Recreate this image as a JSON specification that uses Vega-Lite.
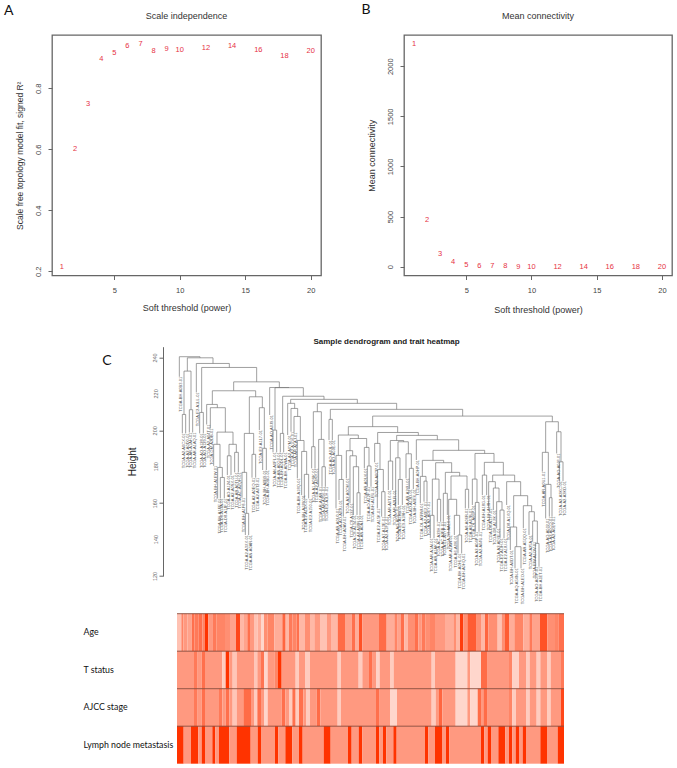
{"$schema":"https://vega.github.io/schema/vega-lite/v6.json","autosize":{"type":"none"},"padding":{"left":52,"top":35,"right":625,"bottom":733},"background":"white","bounds":"flush","spacing":311.7,"config":{"view":{"stroke":null},"font":"Liberation Sans"},
"datasets":{
"scale":[{"power":1,"r2":0.213},{"power":2,"r2":0.6},{"power":3,"r2":0.748},{"power":4,"r2":0.895},{"power":5,"r2":0.916},{"power":6,"r2":0.939},{"power":7,"r2":0.946},{"power":8,"r2":0.922},{"power":9,"r2":0.929},{"power":10,"r2":0.927},{"power":12,"r2":0.931},{"power":14,"r2":0.939},{"power":16,"r2":0.927},{"power":18,"r2":0.905},{"power":20,"r2":0.923}],
"conn":[{"power":1,"k":2219},{"power":2,"k":466},{"power":3,"k":130},{"power":4,"k":44},{"power":5,"k":17},{"power":6,"k":7},{"power":7,"k":3},{"power":8,"k":2},{"power":9,"k":1},{"power":10,"k":1},{"power":12,"k":0},{"power":14,"k":0},{"power":16,"k":0},{"power":18,"k":0},{"power":20,"k":0}],
"merges":[{"l":178,"r":240,"h":240.4,"hl":229.4,"hr":239.8},{"l":202,"r":279,"h":239.8,"hl":232.5,"hr":236.7},{"l":192,"r":213,"h":232.5,"hl":208.7,"hr":211.3},{"l":187,"r":197,"h":208.7,"hl":198.3,"hr":198.3},{"l":208,"r":218,"h":211.3,"hl":198.8,"hr":198.8},{"l":229,"r":328,"h":236.7,"hl":220.8,"hr":234.5},{"l":245,"r":410,"h":234.5,"hl":209.8,"hr":226.6},{"l":239,"r":250,"h":209.8,"hl":198.3,"hr":198.3},{"l":341,"r":478,"h":226.6,"hl":221.7,"hr":223.5},{"l":277,"r":407,"h":221.7,"hl":214.2,"hr":218.4},{"l":260,"r":292,"h":214.2,"hl":203.2,"hr":212.4},{"l":271,"r":316,"h":212.4,"hl":201.0,"hr":199.0},{"l":291,"r":339,"h":199.0,"hl":192.3,"hr":192.3},{"l":281,"r":300,"h":192.3,"hl":180.5,"hr":179.6},{"l":293,"r":307,"h":179.6,"hl":162.6,"hr":174.1},{"l":301,"r":313,"h":174.1,"hl":162.6,"hr":162.6},{"l":327,"r":349,"h":192.3,"hl":186.0,"hr":187.9},{"l":322,"r":333,"h":186.0,"hl":175.4,"hr":175.4},{"l":344,"r":355,"h":187.9,"hl":176.9,"hr":176.9},{"l":388,"r":427,"h":218.4,"hl":198.3,"hr":212.4},{"l":373,"r":401,"h":198.3,"hl":176.9,"hr":186.8},{"l":366,"r":380,"h":176.9,"hl":163.0,"hr":154.4},{"l":376,"r":386,"h":154.4,"hl":142.5,"hr":142.5},{"l":396,"r":407,"h":186.8,"hl":174.0,"hr":174.0},{"l":418,"r":433,"h":212.4,"hl":200.1,"hr":190.1},{"l":428,"r":439,"h":190.1,"hl":178.2,"hr":178.2},{"l":449,"r":507,"h":223.5,"hl":208.4,"hr":223.4},{"l":465,"r":550,"h":223.4,"hl":200.1,"hr":218.7},{"l":488,"r":612,"h":218.7,"hl":198.3,"hr":217.0},{"l":459,"r":470,"h":200.1,"hl":187.9,"hr":187.9},{"l":481,"r":491,"h":198.3,"hl":187.9,"hr":187.9},{"l":512,"r":712,"h":217.0,"hl":214.8,"hr":214.8},{"l":503,"r":524,"h":214.8,"hl":197.4,"hr":212.0},{"l":513,"r":533,"h":212.0,"hl":199.2,"hr":207.6},{"l":522,"r":541,"h":207.6,"hl":198.8,"hr":194.4},{"l":532,"r":552,"h":194.4,"hl":173.6,"hr":188.4},{"l":545,"r":560,"h":188.4,"hl":164.4,"hr":175.8},{"l":553,"r":566,"h":175.8,"hl":162.6,"hr":162.6},{"l":592,"r":830,"h":214.8,"hl":210.2,"hr":211.5},{"l":580,"r":604,"h":210.2,"hl":191.0,"hr":195.0},{"l":575,"r":585,"h":191.0,"hl":179.1,"hr":179.1},{"l":596,"r":612,"h":195.0,"hl":169.0,"hr":180.0},{"l":606,"r":616,"h":180.0,"hl":169.0,"hr":169.0},{"l":631,"r":1028,"h":211.5,"hl":206.0,"hr":207.8},{"l":627,"r":637,"h":206.0,"hl":194.6,"hr":194.6},{"l":758,"r":1297,"h":207.8,"hl":202.0,"hr":204.7},{"l":1277,"r":1315,"h":204.7,"hl":187.9,"hr":199.2},{"l":1267,"r":1285,"h":187.9,"hl":177.3,"hr":170.3},{"l":1277,"r":1293,"h":170.3,"hl":151.6,"hr":163.0},{"l":1288,"r":1296,"h":163.0,"hl":152.6,"hr":152.6},{"l":1310,"r":1323,"h":199.2,"hl":187.3,"hr":182.7},{"l":1318,"r":1329,"h":182.7,"hl":172.1,"hr":172.1},{"l":685,"r":833,"h":202.0,"hl":197.4,"hr":198.8},{"l":655,"r":715,"h":197.4,"hl":186.2,"hr":195.5},{"l":648,"r":665,"h":186.2,"hl":157.1,"hr":173.0},{"l":657,"r":670,"h":173.0,"hl":161.7,"hr":152.6},{"l":690,"r":740,"h":195.5,"hl":188.8,"hr":190.6},{"l":679,"r":698,"h":188.8,"hl":173.6,"hr":186.0},{"l":690,"r":709,"h":186.0,"hl":159.9,"hr":180.0},{"l":700,"r":716,"h":180.0,"hl":153.5,"hr":165.7},{"l":711,"r":720,"h":165.7,"hl":153.5,"hr":153.5},{"l":733,"r":747,"h":190.6,"hl":179.1,"hr":180.4},{"l":742,"r":753,"h":180.4,"hl":169.0,"hr":169.0},{"l":773,"r":895,"h":198.8,"hl":192.8,"hr":197.2},{"l":764,"r":780,"h":192.8,"hl":182.4,"hr":178.5},{"l":772,"r":790,"h":178.5,"hl":157.1,"hr":166.3},{"l":785,"r":795,"h":166.3,"hl":152.6,"hr":152.6},{"l":830,"r":952,"h":197.2,"hl":194.4,"hr":194.8},{"l":811,"r":851,"h":194.4,"hl":183.1,"hr":193.7},{"l":805,"r":818,"h":183.1,"hl":167.2,"hr":167.2},{"l":834,"r":865,"h":193.7,"hl":184.9,"hr":187.1},{"l":827,"r":840,"h":184.9,"hl":158.0,"hr":173.0},{"l":835,"r":847,"h":173.0,"hl":159.0,"hr":159.0},{"l":858,"r":874,"h":187.1,"hl":173.6,"hr":179.1},{"l":868,"r":880,"h":179.1,"hl":167.7,"hr":167.7},{"l":889,"r":1016,"h":194.8,"hl":183.7,"hr":189.0},{"l":939,"r":1094,"h":189.0,"hl":183.5,"hr":187.3},{"l":907,"r":971,"h":183.5,"hl":174.7,"hr":182.2},{"l":901,"r":918,"h":174.7,"hl":159.9,"hr":172.1},{"l":912,"r":921,"h":172.1,"hl":160.8,"hr":160.8},{"l":947,"r":995,"h":182.2,"hl":173.2,"hr":176.9},{"l":937,"r":957,"h":173.2,"hl":153.3,"hr":162.1},{"l":931,"r":942,"h":153.3,"hl":140.7,"hr":140.7},{"l":952,"r":962,"h":162.1,"hl":149.8,"hr":149.8},{"l":976,"r":1019,"h":176.9,"hl":165.4,"hr":174.9},{"l":970,"r":982,"h":165.4,"hl":149.8,"hr":153.5},{"l":993,"r":1041,"h":174.9,"hl":162.1,"hr":167.6},{"l":986,"r":1010,"h":162.1,"hl":142.5,"hr":153.3},{"l":1003,"r":1019,"h":153.3,"hl":142.5,"hr":142.5},{"l":1014,"r":1025,"h":142.5,"hl":132.4,"hr":132.4},{"l":1036,"r":1046,"h":167.6,"hl":157.1,"hr":157.1},{"l":1065,"r":1122,"h":187.3,"hl":173.2,"hr":182.4},{"l":1057,"r":1071,"h":173.2,"hl":159.0,"hr":160.4},{"l":1066,"r":1077,"h":160.4,"hl":144.3,"hr":144.3},{"l":1093,"r":1150,"h":182.4,"hl":175.4,"hr":175.4},{"l":1087,"r":1100,"h":175.4,"hl":164.4,"hr":164.4},{"l":1118,"r":1184,"h":175.4,"hl":171.8,"hr":171.8},{"l":1106,"r":1126,"h":171.8,"hl":157.1,"hr":168.3},{"l":1120,"r":1137,"h":168.3,"hl":156.2,"hr":160.8},{"l":1130,"r":1146,"h":160.8,"hl":146.2,"hr":156.2},{"l":1140,"r":1152,"h":156.2,"hl":140.7,"hr":140.7},{"l":1160,"r":1202,"h":171.8,"hl":159.0,"hr":164.1},{"l":1181,"r":1223,"h":164.1,"hl":146.9,"hr":158.6},{"l":1171,"r":1190,"h":146.9,"hl":134.3,"hr":136.1},{"l":1185,"r":1203,"h":136.1,"hl":124.2,"hr":124.2},{"l":1210,"r":1235,"h":158.6,"hl":146.2,"hr":155.3},{"l":1227,"r":1243,"h":155.3,"hl":142.5,"hr":150.2},{"l":1238,"r":1252,"h":150.2,"hl":138.8,"hr":137.9},{"l":1246,"r":1257,"h":137.9,"hl":125.1,"hr":125.1}],
"leaves":[{"x":178,"h":229.4,"id":"TCGA-BH-A0B3-01"},{"x":187,"h":198.3,"id":"TCGA-A2-A0CX-01"},{"x":197,"h":198.3,"id":"TCGA-A2-A0D0-01"},{"x":208,"h":198.8,"id":"TCGA-AR-A1AH-01"},{"x":218,"h":198.8,"id":"TCGA-AR-A1AQ-01"},{"x":229,"h":220.8,"id":"TCGA-E2-A1LL-01"},{"x":239,"h":198.3,"id":"TCGA-AO-A128-01"},{"x":250,"h":198.3,"id":"TCGA-AO-A129-01"},{"x":260,"h":203.2,"id":"TCGA-A2-A04T-01"},{"x":271,"h":201.0,"id":"TCGA-GM-A2DB-01"},{"x":281,"h":180.5,"id":"TCGA-BH-A1EW-01"},{"x":293,"h":162.6,"id":"TCGA-BH-A1FE-01"},{"x":301,"h":162.6,"id":"TCGA-D8-A1JA-01"},{"x":313,"h":162.6,"id":"TCGA-D8-A1JF-01"},{"x":322,"h":175.4,"id":"TCGA-AO-A124-01"},{"x":333,"h":175.4,"id":"TCGA-A2-A0SX-01"},{"x":344,"h":176.9,"id":"TCGA-AR-A0TU-01"},{"x":355,"h":176.9,"id":"TCGA-AC-A2QH-01"},{"x":366,"h":163.0,"id":"TCGA-BH-A1F8-01"},{"x":376,"h":142.5,"id":"TCGA-A2-A3XX-01"},{"x":386,"h":142.5,"id":"TCGA-AN-A0AR-01"},{"x":396,"h":174.0,"id":"TCGA-A2-A0EQ-01"},{"x":407,"h":174.0,"id":"TCGA-A2-A0T2-01"},{"x":418,"h":200.1,"id":"TCGA-E2-A1L7-01"},{"x":428,"h":178.2,"id":"TCGA-BH-A0B9-01"},{"x":439,"h":178.2,"id":"TCGA-BH-A0BG-01"},{"x":449,"h":208.4,"id":"TCGA-AO-A0J9-01"},{"x":459,"h":187.9,"id":"TCGA-AN-A0FL-01"},{"x":470,"h":187.9,"id":"TCGA-AN-A0G0-01"},{"x":481,"h":187.9,"id":"TCGA-BH-A0DL-01"},{"x":491,"h":187.9,"id":"TCGA-BH-A0WA-01"},{"x":503,"h":197.4,"id":"TCGA-A2-A0YM-01"},{"x":513,"h":199.2,"id":"TCGA-A2-A1G6-01"},{"x":522,"h":198.8,"id":"TCGA-AR-A1AJ-01"},{"x":532,"h":173.6,"id":"TCGA-BH-A18Q-01"},{"x":545,"h":164.4,"id":"TCGA-BH-A18V-01"},{"x":553,"h":162.6,"id":"TCGA-E2-A14X-01"},{"x":566,"h":162.6,"id":"TCGA-E2-A150-01"},{"x":575,"h":179.1,"id":"TCGA-A1-A0SK-01"},{"x":585,"h":179.1,"id":"TCGA-A2-A0ST-01"},{"x":596,"h":169.0,"id":"TCGA-AR-A1AR-01"},{"x":606,"h":169.0,"id":"TCGA-AR-A256-01"},{"x":616,"h":169.0,"id":"TCGA-E2-A1LH-01"},{"x":627,"h":194.6,"id":"TCGA-AO-A0JL-01"},{"x":637,"h":194.6,"id":"TCGA-AO-A0JE-01"},{"x":648,"h":157.1,"id":"TCGA-AR-A0U0-01"},{"x":657,"h":161.7,"id":"TCGA-AO-A03U-01"},{"x":670,"h":152.6,"id":"TCGA-BH-A0AV-01"},{"x":679,"h":173.6,"id":"TCGA-A2-A0CM-01"},{"x":690,"h":159.9,"id":"TCGA-C8-A12Z-01"},{"x":700,"h":153.5,"id":"TCGA-C8-A134-01"},{"x":711,"h":153.5,"id":"TCGA-A8-A08R-01"},{"x":720,"h":153.5,"id":"TCGA-AN-A0AJ-01"},{"x":733,"h":179.1,"id":"TCGA-AR-A0U4-01"},{"x":742,"h":169.0,"id":"TCGA-AO-A12F-01"},{"x":753,"h":169.0,"id":"TCGA-BH-A1EU-01"},{"x":764,"h":182.4,"id":"TCGA-A2-A0CP-01"},{"x":772,"h":157.1,"id":"TCGA-E2-A15K-01"},{"x":785,"h":152.6,"id":"TCGA-A7-A13E-01"},{"x":795,"h":152.6,"id":"TCGA-A2-A1FX-01"},{"x":805,"h":167.2,"id":"TCGA-AR-A0TX-01"},{"x":818,"h":167.2,"id":"TCGA-AR-A2LR-01"},{"x":827,"h":158.0,"id":"TCGA-AO-A0JC-01"},{"x":835,"h":159.0,"id":"TCGA-E9-A1RB-01"},{"x":847,"h":159.0,"id":"TCGA-E9-A1RH-01"},{"x":858,"h":173.6,"id":"TCGA-AR-A24U-01"},{"x":868,"h":167.7,"id":"TCGA-AO-A12D-01"},{"x":880,"h":167.7,"id":"TCGA-BH-A0E6-01"},{"x":889,"h":183.7,"id":"TCGA-BH-A0HP-01"},{"x":901,"h":159.9,"id":"TCGA-OL-A5RW-01"},{"x":912,"h":160.8,"id":"TCGA-A2-A0EX-01"},{"x":921,"h":160.8,"id":"TCGA-A2-A0EY-01"},{"x":931,"h":140.7,"id":"TCGA-AR-A1AI-01"},{"x":942,"h":140.7,"id":"TCGA-AR-A1AK-01"},{"x":952,"h":149.8,"id":"TCGA-AC-A23H-01"},{"x":962,"h":149.8,"id":"TCGA-AC-A2FB-01"},{"x":970,"h":149.8,"id":"TCGA-LL-A5YP-01"},{"x":982,"h":153.5,"id":"TCGA-S3-AA10-01"},{"x":986,"h":142.5,"id":"TCGA-AR-A1AW-01"},{"x":1003,"h":142.5,"id":"TCGA-B6-A0I6-01"},{"x":1014,"h":132.4,"id":"TCGA-BH-A0HL-01"},{"x":1025,"h":132.4,"id":"TCGA-BH-A0HQ-01"},{"x":1036,"h":157.1,"id":"TCGA-A8-A06R-01"},{"x":1046,"h":157.1,"id":"TCGA-A8-A07B-01"},{"x":1057,"h":159.0,"id":"TCGA-OL-A66P-01"},{"x":1066,"h":144.3,"id":"TCGA-A2-A04P-01"},{"x":1077,"h":144.3,"id":"TCGA-A2-A04U-01"},{"x":1087,"h":164.4,"id":"TCGA-BH-A18G-01"},{"x":1100,"h":164.4,"id":"TCGA-BH-A18H-01"},{"x":1106,"h":157.1,"id":"TCGA-D8-A13Y-01"},{"x":1120,"h":156.2,"id":"TCGA-D8-A1XK-01"},{"x":1130,"h":146.2,"id":"TCGA-A2-A0YE-01"},{"x":1140,"h":140.7,"id":"TCGA-E2-A1IH-01"},{"x":1152,"h":140.7,"id":"TCGA-E2-A1IU-01"},{"x":1160,"h":159.0,"id":"TCGA-D8-A1XQ-01"},{"x":1171,"h":134.3,"id":"TCGA-BH-A0DT-01"},{"x":1185,"h":124.2,"id":"TCGA-AQ-A54N-01"},{"x":1203,"h":124.2,"id":"TCGA-BH-A1EO-01"},{"x":1210,"h":146.2,"id":"TCGA-AR-A5QQ-01"},{"x":1227,"h":142.5,"id":"TCGA-A2-A25A-01"},{"x":1238,"h":138.8,"id":"TCGA-EW-A1OV-01"},{"x":1246,"h":125.1,"id":"TCGA-AO-A03P-01"},{"x":1257,"h":125.1,"id":"TCGA-BH-A1ET-01"},{"x":1267,"h":177.3,"id":"TCGA-AR-A0U1-01"},{"x":1277,"h":151.6,"id":"TCGA-AO-A0J2-01"},{"x":1288,"h":152.6,"id":"TCGA-A2-A0CQ-01"},{"x":1296,"h":152.6,"id":"TCGA-A2-A0EV-01"},{"x":1310,"h":187.3,"id":"TCGA-AO-A0J6-01"},{"x":1318,"h":172.1,"id":"TCGA-A2-A3KC-01"},{"x":1329,"h":172.1,"id":"TCGA-A2-A3KD-01"}],
"cells":[
{"row":"Age","from":171,"to":184,"value":0.3},{"row":"Age","from":184,"to":190,"value":0.6},{"row":"Age","from":190,"to":202,"value":0.5},{"row":"Age","from":202,"to":215,"value":0.45},{"row":"Age","from":215,"to":223,"value":0.7},{"row":"Age","from":223,"to":235,"value":0.65},{"row":"Age","from":235,"to":247,"value":0.7},{"row":"Age","from":247,"to":255,"value":0.6},{"row":"Age","from":255,"to":265,"value":1},{"row":"Age","from":265,"to":277,"value":0.5},{"row":"Age","from":277,"to":290,"value":0.65},{"row":"Age","from":290,"to":315,"value":0.6},{"row":"Age","from":315,"to":330,"value":0.55},{"row":"Age","from":330,"to":348,"value":0.45},{"row":"Age","from":348,"to":360,"value":0.9},{"row":"Age","from":360,"to":370,"value":0.35},{"row":"Age","from":370,"to":382,"value":0.45},{"row":"Age","from":382,"to":390,"value":0.7},{"row":"Age","from":390,"to":402,"value":0.5},{"row":"Age","from":402,"to":413,"value":0.3},{"row":"Age","from":413,"to":423,"value":0.4},{"row":"Age","from":423,"to":432,"value":0.2},{"row":"Age","from":432,"to":443,"value":0.55},{"row":"Age","from":443,"to":463,"value":0.6},{"row":"Age","from":463,"to":487,"value":0.4},{"row":"Age","from":487,"to":497,"value":0.75},{"row":"Age","from":497,"to":507,"value":0.35},{"row":"Age","from":507,"to":517,"value":0.65},{"row":"Age","from":517,"to":530,"value":0.6},{"row":"Age","from":530,"to":537,"value":0.7},{"row":"Age","from":537,"to":555,"value":0.35},{"row":"Age","from":555,"to":570,"value":0.55},{"row":"Age","from":570,"to":583,"value":0.35},{"row":"Age","from":583,"to":600,"value":0.5},{"row":"Age","from":600,"to":620,"value":0.3},{"row":"Age","from":620,"to":633,"value":0.5},{"row":"Age","from":633,"to":653,"value":0.35},{"row":"Age","from":653,"to":675,"value":0.72},{"row":"Age","from":675,"to":695,"value":0.45},{"row":"Age","from":695,"to":705,"value":0.7},{"row":"Age","from":705,"to":717,"value":0.4},{"row":"Age","from":717,"to":727,"value":0.85},{"row":"Age","from":727,"to":777,"value":0.5},{"row":"Age","from":777,"to":800,"value":0.72},{"row":"Age","from":800,"to":823,"value":0.4},{"row":"Age","from":823,"to":833,"value":0.6},{"row":"Age","from":833,"to":843,"value":0.45},{"row":"Age","from":843,"to":853,"value":0.7},{"row":"Age","from":853,"to":863,"value":0.35},{"row":"Age","from":863,"to":885,"value":0.55},{"row":"Age","from":885,"to":895,"value":0.7},{"row":"Age","from":895,"to":905,"value":0.5},{"row":"Age","from":905,"to":917,"value":0.65},{"row":"Age","from":917,"to":930,"value":0.55},{"row":"Age","from":930,"to":945,"value":0.6},{"row":"Age","from":945,"to":975,"value":0.5},{"row":"Age","from":975,"to":1000,"value":0.4},{"row":"Age","from":1000,"to":1008,"value":0.55},{"row":"Age","from":1008,"to":1020,"value":0.35},{"row":"Age","from":1020,"to":1030,"value":0.95},{"row":"Age","from":1030,"to":1042,"value":0.55},{"row":"Age","from":1042,"to":1070,"value":0.8},{"row":"Age","from":1070,"to":1083,"value":0.55},{"row":"Age","from":1083,"to":1095,"value":0.35},{"row":"Age","from":1095,"to":1105,"value":0.75},{"row":"Age","from":1105,"to":1133,"value":0.55},{"row":"Age","from":1133,"to":1145,"value":0.3},{"row":"Age","from":1145,"to":1155,"value":0.55},{"row":"Age","from":1155,"to":1167,"value":0.8},{"row":"Age","from":1167,"to":1183,"value":0.4},{"row":"Age","from":1183,"to":1210,"value":0.6},{"row":"Age","from":1210,"to":1228,"value":0.4},{"row":"Age","from":1228,"to":1238,"value":0.65},{"row":"Age","from":1238,"to":1260,"value":0.45},{"row":"Age","from":1260,"to":1282,"value":0.85},{"row":"Age","from":1282,"to":1305,"value":0.55},{"row":"Age","from":1305,"to":1315,"value":0.6},{"row":"Age","from":1315,"to":1332,"value":0.7},
{"row":"T status","from":171,"to":222,"value":0.5},{"row":"T status","from":222,"to":233,"value":0.65},{"row":"T status","from":233,"to":245,"value":0.5},{"row":"T status","from":245,"to":255,"value":0.7},{"row":"T status","from":255,"to":307,"value":0.5},{"row":"T status","from":307,"to":317,"value":0.25},{"row":"T status","from":317,"to":328,"value":1},{"row":"T status","from":328,"to":338,"value":0.5},{"row":"T status","from":338,"to":350,"value":0.28},{"row":"T status","from":350,"to":402,"value":0.5},{"row":"T status","from":402,"to":412,"value":0.28},{"row":"T status","from":412,"to":423,"value":0.5},{"row":"T status","from":423,"to":432,"value":0.68},{"row":"T status","from":432,"to":443,"value":0.2},{"row":"T status","from":443,"to":463,"value":0.5},{"row":"T status","from":463,"to":473,"value":0.6},{"row":"T status","from":473,"to":485,"value":1},{"row":"T status","from":485,"to":527,"value":0.5},{"row":"T status","from":527,"to":537,"value":0.25},{"row":"T status","from":537,"to":555,"value":0.5},{"row":"T status","from":555,"to":570,"value":0.25},{"row":"T status","from":570,"to":653,"value":0.5},{"row":"T status","from":653,"to":663,"value":0.25},{"row":"T status","from":663,"to":716,"value":0.5},{"row":"T status","from":716,"to":727,"value":0.25},{"row":"T status","from":727,"to":747,"value":0.5},{"row":"T status","from":747,"to":758,"value":0.7},{"row":"T status","from":758,"to":768,"value":0.5},{"row":"T status","from":768,"to":779,"value":0.22},{"row":"T status","from":779,"to":810,"value":0.5},{"row":"T status","from":810,"to":821,"value":0.25},{"row":"T status","from":821,"to":935,"value":0.5},{"row":"T status","from":935,"to":945,"value":0.25},{"row":"T status","from":945,"to":1007,"value":0.5},{"row":"T status","from":1007,"to":1042,"value":0.2},{"row":"T status","from":1042,"to":1051,"value":0.5},{"row":"T status","from":1051,"to":1083,"value":0.2},{"row":"T status","from":1083,"to":1103,"value":0.72},{"row":"T status","from":1103,"to":1167,"value":0.5},{"row":"T status","from":1167,"to":1177,"value":0.6},{"row":"T status","from":1177,"to":1197,"value":0.22},{"row":"T status","from":1197,"to":1218,"value":0.5},{"row":"T status","from":1218,"to":1229,"value":0.25},{"row":"T status","from":1229,"to":1250,"value":0.5},{"row":"T status","from":1250,"to":1261,"value":0.25},{"row":"T status","from":1261,"to":1281,"value":0.5},{"row":"T status","from":1281,"to":1292,"value":0.25},{"row":"T status","from":1292,"to":1323,"value":0.5},{"row":"T status","from":1323,"to":1332,"value":0.65},
{"row":"AJCC stage","from":171,"to":222,"value":0.5},{"row":"AJCC stage","from":222,"to":233,"value":0.65},{"row":"AJCC stage","from":233,"to":245,"value":0.5},{"row":"AJCC stage","from":245,"to":255,"value":0.7},{"row":"AJCC stage","from":255,"to":297,"value":0.5},{"row":"AJCC stage","from":297,"to":307,"value":0.65},{"row":"AJCC stage","from":307,"to":317,"value":0.5},{"row":"AJCC stage","from":317,"to":328,"value":0.7},{"row":"AJCC stage","from":328,"to":338,"value":0.5},{"row":"AJCC stage","from":338,"to":350,"value":0.28},{"row":"AJCC stage","from":350,"to":370,"value":0.5},{"row":"AJCC stage","from":370,"to":393,"value":0.72},{"row":"AJCC stage","from":393,"to":402,"value":0.5},{"row":"AJCC stage","from":402,"to":412,"value":0.25},{"row":"AJCC stage","from":412,"to":423,"value":0.7},{"row":"AJCC stage","from":423,"to":432,"value":0.5},{"row":"AJCC stage","from":432,"to":443,"value":0.2},{"row":"AJCC stage","from":443,"to":485,"value":0.5},{"row":"AJCC stage","from":485,"to":496,"value":0.7},{"row":"AJCC stage","from":496,"to":507,"value":0.5},{"row":"AJCC stage","from":507,"to":517,"value":0.25},{"row":"AJCC stage","from":517,"to":527,"value":0.7},{"row":"AJCC stage","from":527,"to":537,"value":0.25},{"row":"AJCC stage","from":537,"to":550,"value":0.7},{"row":"AJCC stage","from":550,"to":558,"value":0.5},{"row":"AJCC stage","from":558,"to":570,"value":0.25},{"row":"AJCC stage","from":570,"to":590,"value":0.5},{"row":"AJCC stage","from":590,"to":601,"value":0.72},{"row":"AJCC stage","from":601,"to":653,"value":0.5},{"row":"AJCC stage","from":653,"to":663,"value":0.25},{"row":"AJCC stage","from":663,"to":768,"value":0.5},{"row":"AJCC stage","from":768,"to":779,"value":0.7},{"row":"AJCC stage","from":779,"to":810,"value":0.5},{"row":"AJCC stage","from":810,"to":831,"value":0.2},{"row":"AJCC stage","from":831,"to":935,"value":0.5},{"row":"AJCC stage","from":935,"to":947,"value":0.25},{"row":"AJCC stage","from":947,"to":957,"value":0.5},{"row":"AJCC stage","from":957,"to":967,"value":0.75},{"row":"AJCC stage","from":967,"to":1007,"value":0.5},{"row":"AJCC stage","from":1007,"to":1042,"value":0.2},{"row":"AJCC stage","from":1042,"to":1051,"value":0.5},{"row":"AJCC stage","from":1051,"to":1073,"value":0.2},{"row":"AJCC stage","from":1073,"to":1083,"value":0.72},{"row":"AJCC stage","from":1083,"to":1090,"value":0.5},{"row":"AJCC stage","from":1090,"to":1103,"value":0.72},{"row":"AJCC stage","from":1103,"to":1167,"value":0.5},{"row":"AJCC stage","from":1167,"to":1177,"value":0.6},{"row":"AJCC stage","from":1177,"to":1188,"value":0.25},{"row":"AJCC stage","from":1188,"to":1218,"value":0.5},{"row":"AJCC stage","from":1218,"to":1229,"value":0.25},{"row":"AJCC stage","from":1229,"to":1250,"value":0.5},{"row":"AJCC stage","from":1250,"to":1261,"value":0.25},{"row":"AJCC stage","from":1261,"to":1281,"value":0.5},{"row":"AJCC stage","from":1281,"to":1292,"value":0.25},{"row":"AJCC stage","from":1292,"to":1323,"value":0.5},{"row":"AJCC stage","from":1323,"to":1332,"value":0.9},
{"row":"Lymph node metastasis","from":171,"to":191,"value":1},{"row":"Lymph node metastasis","from":191,"to":213,"value":0.5},{"row":"Lymph node metastasis","from":213,"to":235,"value":1},{"row":"Lymph node metastasis","from":235,"to":245,"value":0.5},{"row":"Lymph node metastasis","from":245,"to":255,"value":1},{"row":"Lymph node metastasis","from":255,"to":277,"value":0.5},{"row":"Lymph node metastasis","from":277,"to":286,"value":1},{"row":"Lymph node metastasis","from":286,"to":297,"value":0.5},{"row":"Lymph node metastasis","from":297,"to":328,"value":1},{"row":"Lymph node metastasis","from":328,"to":350,"value":0.5},{"row":"Lymph node metastasis","from":350,"to":392,"value":1},{"row":"Lymph node metastasis","from":392,"to":413,"value":0.5},{"row":"Lymph node metastasis","from":413,"to":423,"value":1},{"row":"Lymph node metastasis","from":423,"to":465,"value":0.5},{"row":"Lymph node metastasis","from":465,"to":475,"value":1},{"row":"Lymph node metastasis","from":475,"to":496,"value":0.5},{"row":"Lymph node metastasis","from":496,"to":517,"value":1},{"row":"Lymph node metastasis","from":517,"to":537,"value":0.5},{"row":"Lymph node metastasis","from":537,"to":548,"value":1},{"row":"Lymph node metastasis","from":548,"to":611,"value":0.5},{"row":"Lymph node metastasis","from":611,"to":632,"value":1},{"row":"Lymph node metastasis","from":632,"to":684,"value":0.5},{"row":"Lymph node metastasis","from":684,"to":695,"value":1},{"row":"Lymph node metastasis","from":695,"to":716,"value":0.5},{"row":"Lymph node metastasis","from":716,"to":727,"value":1},{"row":"Lymph node metastasis","from":727,"to":768,"value":0.5},{"row":"Lymph node metastasis","from":768,"to":778,"value":1},{"row":"Lymph node metastasis","from":778,"to":789,"value":0.5},{"row":"Lymph node metastasis","from":789,"to":799,"value":1},{"row":"Lymph node metastasis","from":799,"to":820,"value":0.5},{"row":"Lymph node metastasis","from":820,"to":830,"value":1},{"row":"Lymph node metastasis","from":830,"to":915,"value":0.5},{"row":"Lymph node metastasis","from":915,"to":925,"value":1},{"row":"Lymph node metastasis","from":925,"to":945,"value":0.5},{"row":"Lymph node metastasis","from":945,"to":966,"value":1},{"row":"Lymph node metastasis","from":966,"to":978,"value":0.5},{"row":"Lymph node metastasis","from":978,"to":988,"value":1},{"row":"Lymph node metastasis","from":988,"to":1083,"value":0.5},{"row":"Lymph node metastasis","from":1083,"to":1093,"value":1},{"row":"Lymph node metastasis","from":1093,"to":1103,"value":0.5},{"row":"Lymph node metastasis","from":1103,"to":1113,"value":1},{"row":"Lymph node metastasis","from":1113,"to":1135,"value":0.5},{"row":"Lymph node metastasis","from":1135,"to":1156,"value":1},{"row":"Lymph node metastasis","from":1156,"to":1167,"value":0.5},{"row":"Lymph node metastasis","from":1167,"to":1177,"value":1},{"row":"Lymph node metastasis","from":1177,"to":1187,"value":0.5},{"row":"Lymph node metastasis","from":1187,"to":1197,"value":1},{"row":"Lymph node metastasis","from":1197,"to":1208,"value":0.5},{"row":"Lymph node metastasis","from":1208,"to":1218,"value":1},{"row":"Lymph node metastasis","from":1218,"to":1261,"value":0.5},{"row":"Lymph node metastasis","from":1261,"to":1281,"value":1},{"row":"Lymph node metastasis","from":1281,"to":1313,"value":0.5},{"row":"Lymph node metastasis","from":1313,"to":1332,"value":1}],
"rows":[{"row":"Age"},{"row":"T status"},{"row":"AJCC stage"},{"row":"Lymph node metastasis"}]
},
"vconcat":[
{"hconcat":[
{"width":269,"height":240.5,"view":{"stroke":"#666","strokeWidth":1.3},"title":{"text":"Scale independence","fontSize":9,"fontWeight":"normal","color":"#333","offset":-17.5},
"layer":[
{"data":{"name":"scale"},"mark":{"type":"text","color":"#E63244","fontSize":7.5},"encoding":{"x":{"field":"power","type":"quantitative","scale":{"domain":[0.24,20.79],"nice":false,"zero":false},"axis":{"values":[5,10,15,20],"grid":false,"domain":false,"title":"Soft threshold (power)","titleFontSize":9,"titleFontWeight":"normal","titleColor":"#333","titlePadding":9,"labelFontSize":7.5,"labelColor":"#444","tickColor":"#666","tickSize":4,"labelPadding":7}},"y":{"field":"r2","type":"quantitative","scale":{"domain":[0.186,0.975],"nice":false,"zero":false},"axis":{"values":[0.2,0.4,0.6,0.8],"format":".1f","grid":false,"domain":false,"title":"Scale free topology model fit, signed R²","titleFontSize":8.5,"titleFontWeight":"normal","titleColor":"#333","titlePadding":10,"labelFontSize":7.5,"labelColor":"#444","labelAngle":-90,"labelAlign":"center","labelBaseline":"bottom","tickColor":"#666","tickSize":4,"labelPadding":6}},"text":{"field":"power","type":"quantitative"}}},
{"mark":{"type":"rule","color":"#F08A8A","strokeWidth":1.3},"encoding":{"y":{"datum":0.8}}},
{"data":{"values":[{"power":-3.07,"r2":1.0546,"panel":"A"}]},"mark":{"type":"text","font":"Lato","fontSize":14,"color":"#111"},"encoding":{"x":{"field":"power","type":"quantitative"},"y":{"field":"r2","type":"quantitative"},"text":{"field":"panel"}}}
]},
{"width":268,"height":240.5,"view":{"stroke":"#666","strokeWidth":1.3},"title":{"text":"Mean connectivity","fontSize":9,"fontWeight":"normal","color":"#333","offset":-17.5},
"layer":[
{"data":{"name":"conn"},"mark":{"type":"text","color":"#E63244","fontSize":7.5},"encoding":{"x":{"field":"power","type":"quantitative","scale":{"domain":[0.233,20.77],"nice":false,"zero":false},"axis":{"values":[5,10,15,20],"grid":false,"domain":false,"title":"Soft threshold (power)","titleFontSize":9,"titleFontWeight":"normal","titleColor":"#333","titlePadding":11,"labelFontSize":7.5,"labelColor":"#444","tickColor":"#666","tickSize":4,"labelPadding":7}},"y":{"field":"k","type":"quantitative","scale":{"domain":[-88,2312],"nice":false,"zero":false},"axis":{"values":[0,500,1000,1500,2000],"format":"d","grid":false,"domain":false,"title":"Mean connectivity","titleFontSize":9,"titleFontWeight":"normal","titleColor":"#333","titlePadding":10,"labelFontSize":7.5,"labelColor":"#444","labelAngle":-90,"labelAlign":"center","labelBaseline":"bottom","tickColor":"#666","tickSize":4,"labelPadding":6}},"text":{"field":"power","type":"quantitative"}}},
{"data":{"values":[{"power":-2.67,"k":2559,"panel":"B"}]},"mark":{"type":"text","font":"Lato","fontSize":14,"color":"#111"},"encoding":{"x":{"field":"power","type":"quantitative"},"y":{"field":"k","type":"quantitative"},"text":{"field":"panel"}}}
]}
],"spacing":83,"bounds":"flush"},
{"vconcat":[
{"width":512,"height":229.3,"title":{"text":"Sample dendrogram and trait heatmap","fontSize":8,"fontWeight":"bold","color":"#222","offset":1,"dx":78.5},
"layer":[
{"data":{"name":"merges"},"mark":{"type":"rule","color":"#777","strokeWidth":0.7},"encoding":{"x":{"field":"l","type":"quantitative","scale":{"domain":[-204,1332],"nice":false,"zero":false},"axis":null},"x2":{"field":"r"},"y":{"field":"h","type":"quantitative","scale":{"domain":[120,245.9],"nice":false,"zero":false},"axis":{"values":[120,140,160,180,200,220,240],"labelOverlap":false,"grid":false,"offset":-111,"title":"Height","titleFontSize":10,"titleFontWeight":"normal","titleColor":"#222","titlePadding":15,"labelFontSize":5.5,"labelColor":"#666","labelAngle":-90,"labelAlign":"center","labelBaseline":"bottom","domainColor":"#666","tickColor":"#666","tickSize":4,"labelPadding":2}}}},
{"data":{"name":"merges"},"mark":{"type":"rule","color":"#777","strokeWidth":0.7},"encoding":{"x":{"field":"l","type":"quantitative"},"y":{"field":"h","type":"quantitative"},"y2":{"field":"hl"}}},
{"data":{"name":"merges"},"mark":{"type":"rule","color":"#777","strokeWidth":0.7},"encoding":{"x":{"field":"r","type":"quantitative"},"y":{"field":"h","type":"quantitative"},"y2":{"field":"hr"}}},
{"data":{"name":"leaves"},"mark":{"type":"text","angle":270,"align":"right","baseline":"middle","fontSize":4,"color":"#555","dy":2},"encoding":{"x":{"field":"x","type":"quantitative"},"y":{"field":"h","type":"quantitative"},"text":{"field":"id"}}},
{"data":{"values":[{"x":108,"h":220,"tick":"220"},{"x":108,"h":180,"tick":"180"},{"x":108,"h":140,"tick":"140"}]},"mark":{"type":"text","angle":270,"align":"center","baseline":"middle","fontSize":5.5,"color":"#666"},"encoding":{"x":{"field":"x","type":"quantitative"},"y":{"field":"h","type":"quantitative"},"text":{"field":"tick"}}},
{"data":{"values":[{"x":-39,"h":238,"panel":"C"}]},"mark":{"type":"text","font":"Lato","fontSize":14,"color":"#111"},"encoding":{"x":{"field":"x","type":"quantitative"},"y":{"field":"h","type":"quantitative"},"text":{"field":"panel"}}}
]},
{"width":512,"height":150,
"layer":[
{"data":{"name":"cells"},"mark":{"type":"rect","strokeWidth":0},"encoding":{"x":{"field":"from","type":"quantitative","scale":{"domain":[-204,1332],"nice":false,"zero":false},"axis":null},"x2":{"field":"to"},"y":{"field":"row","type":"nominal","scale":{"domain":["Age","T status","AJCC stage","Lymph node metastasis"],"paddingInner":0,"paddingOuter":0},"axis":{"title":null,"ticks":false,"domain":false,"offset":-31,"labelAlign":"left","labelPadding":0,"labelFont":"Lato","labelFontSize":8.8,"labelColor":"#111","labelLimit":200}},"color":{"field":"value","type":"quantitative","scale":{"domain":[0,1],"range":["#ffffff","#ff3300"],"interpolate":"rgb"},"legend":null}}},
{"data":{"name":"rows"},"mark":{"type":"rule","color":"#7a3a2a","strokeWidth":0.8},"encoding":{"x":{"datum":171},"x2":{"datum":1332},"y":{"field":"row","type":"nominal","bandPosition":0}}}
]}
],"spacing":37,"bounds":"flush"}
]}
